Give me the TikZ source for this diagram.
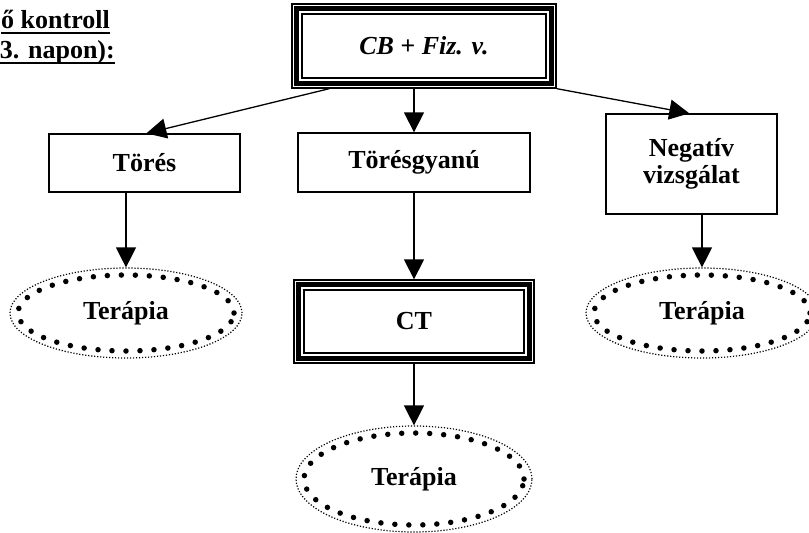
\documentclass[tikz,border=0pt]{standalone}
\usepackage{fontspec}
\setmainfont{Liberation Serif}
\usetikzlibrary{shapes.geometric,arrows.meta,calc}
\newcommand\TriFrame[1]{%
  \draw[line width=5.5pt] ([shift={(5.2pt,-5.2pt)}]#1.north west) rectangle ([shift={(-5.2pt,5.2pt)}]#1.south east);
  \draw[line width=2.2pt] ([shift={(10.8pt,-10.8pt)}]#1.north west) rectangle ([shift={(-10.8pt,10.8pt)}]#1.south east);}
\begin{document}
\begin{tikzpicture}[x=1pt,y=-1pt,
  txt/.style={font=\fontsize{26}{27}\selectfont\bfseries},
  box/.style={txt,draw,line width=1.3pt,inner sep=0pt,align=center},
  tribox/.style={txt,draw,line width=1.3pt,inner sep=0pt},
  oval/.style={txt,ellipse,draw,line width=1.2pt,dash pattern=on 1.2pt off 1.8pt,inner sep=0pt},
  bigdots/.style={line width=5.5pt,line cap=round,dash pattern=on 0pt off 14pt},
  uline/.style={line width=1.5pt},
  arr/.style={line width=1.3pt,-{Triangle[width=20pt,length=20pt]}}]
\useasboundingbox (0,0) rectangle (809,533);
% header text
\node[txt,anchor=base east,inner sep=0pt] (h1) at (110,28) {ő kontroll};
\draw[uline] ([yshift=-5pt]h1.base west) -- ([yshift=-5pt]h1.base east);
\node[txt,anchor=base east,inner sep=0pt] (h2) at (115,58) {3. napon):};
\draw[uline] ([yshift=-5pt]h2.base west) -- ([yshift=-5pt]h2.base east);
% boxes
\node[tribox,minimum width=264pt,minimum height=84pt] (top) at (424,46) {\itshape CB + Fiz. v.};
\TriFrame{top}
\node[box,minimum width=191pt,minimum height=58pt] (tores) at (144.5,163) {Törés};
\node[box,minimum width=232pt,minimum height=59pt] (tg) at (414,162.5) {Törésgyanú};
\node[box,minimum width=171pt,minimum height=100pt] (neg) at (691.5,164) {Negatív\\vizsgálat};
\node[tribox,minimum width=240pt,minimum height=83pt] (ct) at (414,321.5) {CT};
\TriFrame{ct}
% ellipses
\node[oval,minimum width=232pt,minimum height=90pt] (lt) at (126,313) {Terápia};
\draw[bigdots] (lt.center) ellipse [x radius=108pt, y radius=38pt];
\node[oval,minimum width=232pt,minimum height=90pt] (rt) at (702,313) {Terápia};
\draw[bigdots] (rt.center) ellipse [x radius=108pt, y radius=38pt];
\node[oval,minimum width=236pt,minimum height=106pt] (mt) at (414,479) {Terápia};
\draw[bigdots] (mt.center) ellipse [x radius=110pt, y radius=46pt];
% arrows
\draw[arr] ([xshift=38pt]top.south west) -- ([xshift=98pt]tores.north west);
\draw[arr] (top.south east) -- ([xshift=84pt]neg.north west);
\draw[arr] (top.south -| tg.north) -- (tg.north);
\draw[arr] (tores.south -| lt.north) -- (lt.north);
\draw[arr] (neg.south -| rt.north) -- (rt.north);
\draw[arr] (tg.south) -- (ct.north);
\draw[arr] (ct.south) -- (mt.north);
\end{tikzpicture}
\end{document}
